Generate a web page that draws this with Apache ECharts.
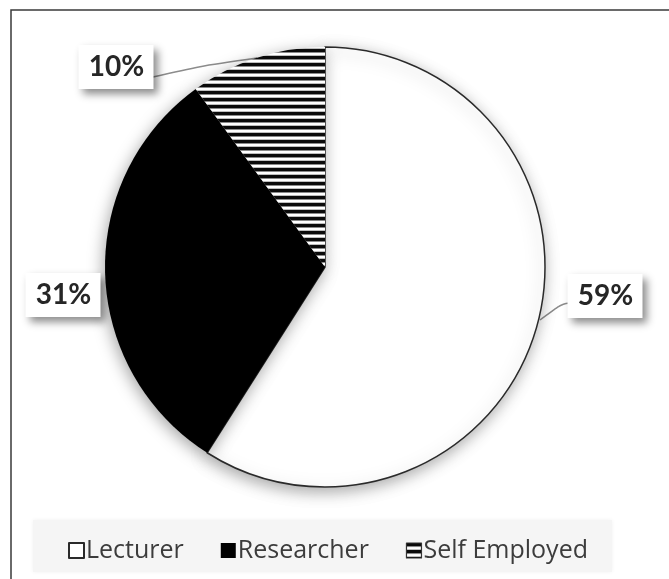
<!DOCTYPE html>
<html>
<head>
<meta charset="utf-8">
<script src="https://cdn.jsdelivr.net/npm/echarts@6/dist/echarts.min.js"></script>
<style>
  html, body { margin: 0; padding: 0; background: #fff; }
  #chart { width: 669px; height: 579px; }
</style>
</head>
<body>
<div id="chart"></div>
<script>
// Occupation of respondents (percent shares)
const categories = ['Lecturer', 'Researcher', 'Self Employed'];
const shares = [59, 31, 10];

// Pie geometry in pixels
const CX = 325, CY = 267, R = 220;

// Label text centres, relative to the pie centre
const labelOffsets = {
  'Lecturer': [280, 29],
  'Researcher': [-262, 28],
  'Self Employed': [-209, -200]
};
// Leader line points, relative to the pie centre (edge point first)
const leaderLines = {
  'Lecturer': [[215, 53], [238, 36], [252, 36]],
  'Self Employed': [[-68, -209], [-125, -201], [-172, -190]]
};

// Horizontal stripe fill
function stripePattern() {
  const c = document.createElement('canvas');
  c.width = 8; c.height = 7;
  const g = c.getContext('2d');
  g.fillStyle = '#ffffff'; g.fillRect(0, 0, 8, 7);
  g.fillStyle = '#0a0a0a'; g.fillRect(0, 0, 8, 3);
  g.fillStyle = '#8a8a8a'; g.fillRect(0, 3, 8, 1);
  g.fillStyle = '#bdbdbd'; g.fillRect(0, 6, 8, 1);
  return { image: c, repeat: 'repeat' };
}

const fills = {
  'Lecturer': { color: '#ffffff', borderColor: '#2a2a2a', borderWidth: 1.5 },
  'Researcher': { color: '#000000', borderColor: '#000000', borderWidth: 0 },
  'Self Employed': { color: stripePattern(), borderColor: '#333333', borderWidth: 0 }
};

const pieData = categories.map((name, i) => ({
  name: name,
  value: shares[i],
  itemStyle: Object.assign({
    shadowBlur: 16,
    shadowColor: 'rgba(0,0,0,0.35)',
    shadowOffsetX: -2,
    shadowOffsetY: 4
  }, fills[name])
}));

const chart = echarts.init(document.getElementById('chart'), null, { renderer: 'canvas' });

chart.setOption({
  backgroundColor: '#ffffff',
  animation: false,
  graphic: [
    {
      type: 'rect', z: -10, silent: true,
      shape: { x: 11, y: 10, width: 700, height: 620 },
      style: { fill: '#ffffff', stroke: '#3a3a3a', lineWidth: 1.5 }
    },
    {
      type: 'rect', z: -5, silent: true,
      shape: { x: 33, y: 520, width: 579, height: 52 },
      style: { fill: '#f5f5f5', shadowBlur: 4, shadowColor: 'rgba(0,0,0,0.06)' }
    }
  ],
  legend: {
    data: categories.map(name => ({
      name: name,
      itemStyle: name === 'Self Employed'
        ? { color: stripePattern(), borderColor: '#333', borderWidth: 1.2 }
        : undefined
    })),
    left: 68,
    top: 538,
    padding: 0,
    itemWidth: 15,
    itemHeight: 15,
    itemGap: 37,
    icon: 'rect',
    textStyle: {
      fontFamily: 'Open Sans',
      fontSize: 25,
      color: '#3c3c3c',
      padding: [0, 0, 0, -3]
    },
    selectedMode: false
  },
  series: [{
    type: 'pie',
    center: [CX, CY],
    radius: R,
    startAngle: 90,
    clockwise: true,
    silent: true,
    emphasis: { disabled: true },
    data: pieData,
    label: {
      show: true,
      position: 'outside',
      alignTo: 'none',
      overflow: 'none',
      width: 54,
      align: 'center',
      formatter: '{d}%',
      fontFamily: 'Lato',
      fontWeight: 'bold',
      fontSize: 28,
      lineHeight: 24,
      color: '#262626',
      backgroundColor: '#ffffff',
      padding: [10, 10, 10, 11],
      shadowColor: 'rgba(0,0,0,0.45)',
      shadowBlur: 8,
      shadowOffsetX: 4,
      shadowOffsetY: 5
    },
    labelLine: {
      show: true,
      smooth: 0.3,
      lineStyle: { color: '#8c8c8c', width: 1.5 }
    },
    labelLayout: function (params) {
      const name = categories[params.dataIndex];
      const off = labelOffsets[name];
      const out = {
        x: CX + off[0],
        y: CY + off[1],
        align: 'center',
        verticalAlign: 'middle'
      };
      const pts = leaderLines[name];
      out.labelLinePoints = pts
        ? pts.map(p => [CX + p[0], CY + p[1]])
        : [[CX, CY], [CX, CY], [CX, CY]];
      return out;
    }
  }]
});
</script>
</body>
</html>
